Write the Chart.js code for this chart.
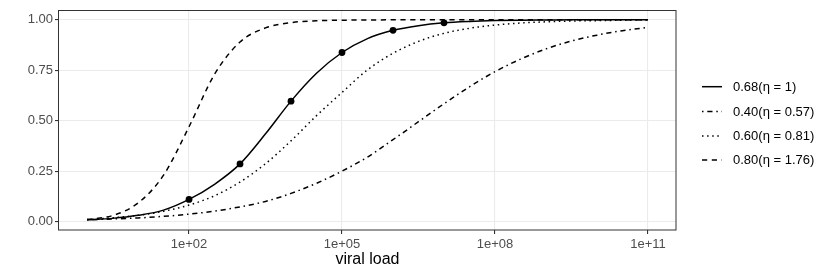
<!DOCTYPE html>
<html>
<head>
<meta charset="utf-8">
<script src="https://cdn.jsdelivr.net/npm/chart.js@4/dist/chart.umd.min.js"></script>
<style>
  html, body { margin: 0; padding: 0; background: #fff; }
  canvas { display: block; }
</style>
</head>
<body>
<canvas id="chart" width="830" height="277"></canvas>
<script>
// log10 of viral load, every half decade
const logLoad = [0, 0.5, 1, 1.5, 2, 2.5, 3, 3.5, 4, 4.5, 5, 5.5, 6, 6.5, 7, 7.5, 8, 8.5, 9, 9.5, 10, 10.5, 11];
const viralLoad = logLoad.map(l => Math.pow(10, l));

// values
const probSolid   = [0.009, 0.016, 0.031, 0.057, 0.110, 0.185, 0.286, 0.435, 0.597, 0.735, 0.838, 0.907, 0.948, 0.971, 0.985, 0.992, 0.996, 0.998, 0.999, 1.000, 1.000, 1.000, 1.000];
const probDashDot = [0.009, 0.013, 0.018, 0.026, 0.037, 0.052, 0.073, 0.100, 0.140, 0.190, 0.250, 0.320, 0.406, 0.495, 0.584, 0.668, 0.743, 0.805, 0.856, 0.895, 0.924, 0.946, 0.962];
const probDotted  = [0.010, 0.019, 0.031, 0.051, 0.082, 0.128, 0.196, 0.287, 0.400, 0.525, 0.640, 0.752, 0.834, 0.893, 0.933, 0.958, 0.974, 0.984, 0.990, 0.994, 0.996, 0.998, 0.999];
const probDashed  = [0.010, 0.030, 0.092, 0.230, 0.470, 0.730, 0.890, 0.960, 0.986, 0.995, 0.998, 0.999, 1.000, 1.000, 1.000, 1.000, 1.000, 1.000, 1.000, 1.000, 1.000, 1.000, 1.000];

// points on the solid curve
const pointLoad = [1e2, 1e3, 1e4, 1e5, 1e6, 1e7];
const pointProb = [0.110, 0.286, 0.597, 0.838, 0.948, 0.985];

const seriesLabels = ["0.68(\u03B7 = 1)", "0.40(\u03B7 = 0.57)", "0.60(\u03B7 = 0.81)", "0.80(\u03B7 = 1.76)"];

const xTickValues = [1e2, 1e5, 1e8, 1e11];
const xTickLabels = ["1e+02", "1e+05", "1e+08", "1e+11"];
const yTickValues = [0, 0.25, 0.5, 0.75, 1];
const yTickLabels = ["0.00", "0.25", "0.50", "0.75", "1.00"];

const LW = 1.5;
const FONT = "'Liberation Sans', Arial, Helvetica, sans-serif";

function toXY(ys) {
    return viralLoad.map((x, i) => ({ x: x, y: ys[i] }));
}

function lineSet(label, ys, dash) {
    return {
        label: label,
        data: toXY(ys),
        borderColor: "#000",
        borderWidth: LW,
        borderDash: dash,
        pointRadius: 0,
        fill: false,
        cubicInterpolationMode: "monotone"
    };
}

// legend + panel border drawn by hand, ggplot style
const panelPlugin = {
    id: "panel",
    afterDraw(chart) {
        const ctx = chart.ctx;
        const a = chart.chartArea;
        ctx.save();
        ctx.strokeStyle = "#333333";
        ctx.lineWidth = 1;
        ctx.setLineDash([]);
        ctx.strokeRect(Math.round(a.left) - 0.5, Math.round(a.top) + 0.5,
                       Math.round(a.right - a.left) + 0.5, Math.round(a.bottom - a.top) - 0.5);

        const rowY = [86.7, 111.5, 136, 160];
        const keyX0 = 702, keyX1 = 722, textX = 733;
        ctx.font = "13px " + FONT;
        ctx.fillStyle = "#000";
        ctx.textBaseline = "middle";
        ctx.textAlign = "left";
        chart.data.datasets.filter(d => d.label).forEach((d, i) => {
            ctx.beginPath();
            ctx.strokeStyle = "#000";
            ctx.lineWidth = d.borderWidth;
            ctx.setLineDash(d.borderDash || []);
            ctx.moveTo(keyX0, rowY[i]);
            ctx.lineTo(keyX1, rowY[i]);
            ctx.stroke();
            ctx.setLineDash([]);
            ctx.fillText(d.label, textX, rowY[i] + 0.5);
        });
        ctx.restore();
    }
};

new Chart(document.getElementById("chart"), {
    type: "line",
    data: {
        datasets: [
            lineSet(seriesLabels[0], probSolid, []),
            lineSet(seriesLabels[1], probDashDot, [1.5, 3.8, 5.2, 3.8]),
            lineSet(seriesLabels[2], probDotted, [1.5, 3.6]),
            lineSet(seriesLabels[3], probDashed, [5.2, 4.6]),
            {
                label: "",
                data: pointLoad.map((x, i) => ({ x: x, y: pointProb[i] })),
                showLine: false,
                pointRadius: 3.4,
                pointBackgroundColor: "#000",
                pointBorderWidth: 0,
                borderColor: "#000"
            }
        ]
    },
    options: {
        responsive: false,
        animation: false,
        layout: { autoPadding: false, padding: { left: 0, right: 154, top: 8, bottom: 0 } },
        plugins: { legend: { display: false }, tooltip: { enabled: false } },
        scales: {
            x: {
                type: "logarithmic",
                min: Math.pow(10, -0.55),
                max: Math.pow(10, 11.55),
                afterBuildTicks: s => { s.ticks = xTickValues.map(v => ({ value: v })); },
                afterFit: s => { s.height = 47; },
                grid: { color: "#EBEBEB", lineWidth: 1.1, tickColor: "#333333", tickLength: 4 },
                border: { display: false },
                ticks: {
                    autoSkip: false, maxRotation: 0, padding: 3,
                    color: "#4D4D4D", font: { size: 13, family: FONT },
                    callback: (v, i) => xTickLabels[i]
                },
                title: {
                    display: true, text: "viral load", color: "#000",
                    font: { size: 16, family: FONT }, padding: { top: 0, bottom: 8 }
                }
            },
            y: {
                type: "linear",
                min: -0.0416,
                max: 1.0496,
                afterBuildTicks: s => { s.ticks = yTickValues.map(v => ({ value: v })); },
                afterFit: s => { s.width = 59; },
                grid: { color: "#EBEBEB", lineWidth: 1.1, tickColor: "#333333", tickLength: 4 },
                border: { display: false },
                ticks: {
                    autoSkip: false, padding: 2,
                    color: "#4D4D4D", font: { size: 13, family: FONT },
                    callback: (v, i) => yTickLabels[i]
                }
            }
        }
    },
    plugins: [panelPlugin]
});
</script>
</body>
</html>
